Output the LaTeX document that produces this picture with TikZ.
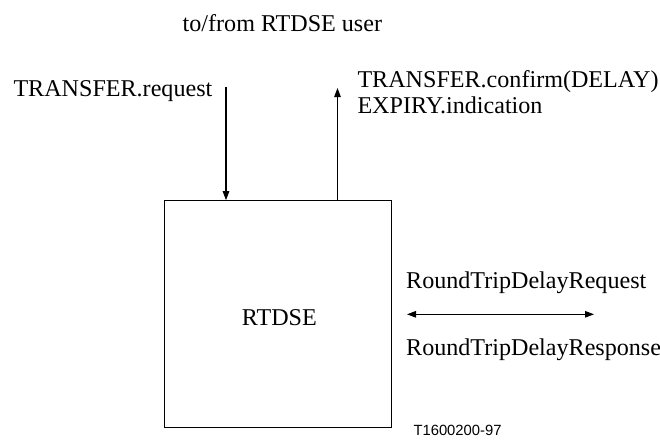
\documentclass[tikz,border=0pt]{standalone}
\usepackage{fontspec}
\setmainfont{Liberation Serif}
\newfontfamily\labelsans{Liberation Sans}
\usetikzlibrary{arrows.meta}
\begin{document}
\begin{tikzpicture}[x=1pt,y=-1pt,
  txt/.style={inner sep=0pt,anchor=base west,font=\fontsize{24.1pt}{26pt}\selectfont},
  blk/.style={draw,line width=1.1pt,inner sep=0pt,minimum width=227pt,minimum height=226.5pt},
  conn/.style={line width=1.1pt,-{Triangle[length=9pt,width=6.5pt]}},
  conn2/.style={line width=1.1pt,{Triangle[length=9pt,width=6.5pt]}-{Triangle[length=9pt,width=6.5pt]}}]
\useasboundingbox (0,0) rectangle (660,439);
\node[blk] (rtdse) at (278.2,314) {};
\node[txt] (rtdsel) at (241.7,325) {RTDSE};
\node[txt] (user) at (182.5,31) {to/from RTDSE user};
\node[txt] (treq) at (13.3,96.7) {TRANSFER.request};
\node[txt] (tconf) at (357.3,87.3) {TRANSFER.confirm(DELAY)};
\node[txt] (expiry) at (357.3,113.3) {EXPIRY.indication};
\node[txt] (rreq) at (406,288) {RoundTripDelayRequest};
\node[txt] (rresp) at (406,355) {RoundTripDelayResponse};
\node[inner sep=0pt,anchor=base west,font=\labelsans\fontsize{14.8pt}{16pt}\selectfont] (fig) at (413.3,435) {T1600200-97};
\coordinate (downtop) at (226,87.3);
\coordinate (uptop) at (337.5,88);
\coordinate (pl) at (407,314.3);
\coordinate (pr) at (594,314.3);
\draw[conn] (downtop) -- (downtop |- rtdse.north);
\draw[conn] (uptop |- rtdse.north) -- (uptop);
\draw[conn2] (pl) -- (pr);
\end{tikzpicture}
\end{document}
